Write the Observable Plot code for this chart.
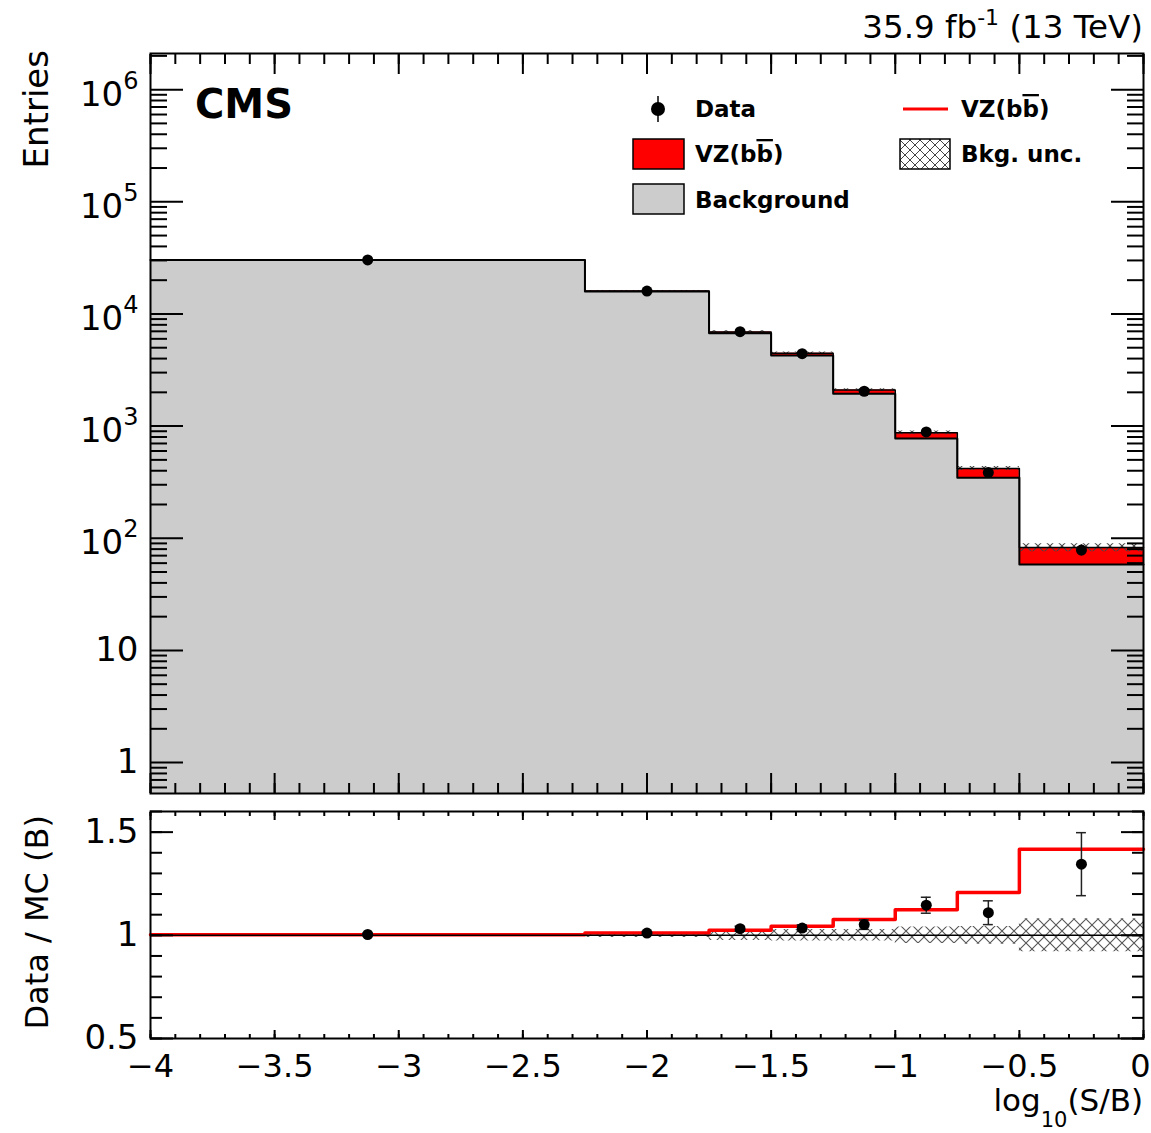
<!DOCTYPE html>
<html><head><meta charset="utf-8">
<script src="https://cdn.jsdelivr.net/npm/d3@7"></script>
<script src="https://cdn.jsdelivr.net/npm/@observablehq/plot@0.6"></script>
<style>
html,body{margin:0;padding:0;background:#fff;}
#wrap{position:relative;width:1151px;height:1133px;overflow:hidden;font-family:"DejaVu Sans",sans-serif;background:#fff;}
#top,#ratio{position:absolute;left:0;}
#top{top:0px;} #ratio{top:805px;}
#overlay{position:absolute;left:0;top:0;pointer-events:none;}
svg{overflow:visible;}
</style></head><body>
<div id="wrap"><div id="top"></div><div id="ratio"></div>
<svg id="overlay" width="1151" height="1133" font-family="DejaVu Sans"></svg></div>
<script>
// ---- data ----
const binEdges = [-4, -2.25, -1.75, -1.5, -1.25, -1, -0.75, -0.5, 0];
const background = [30210, 15830, 6740, 4270, 1945, 775, 347, 58.3];
const signal = [90, 175, 165, 190, 150, 96, 72, 24.3];
const dataCounts = [30330, 16000, 6955, 4420, 2046, 888, 385, 78.4];
const dataErrors = [174, 126, 83, 66, 45, 30, 20, 8.9];
const bkgRelUnc = [0.006, 0.01, 0.025, 0.028, 0.028, 0.04, 0.043, 0.08];
const yMajorTicks = [1, 10, 100, 1000, 10000, 100000, 1000000];
const yTickLabels = ["1", "10", "10^2", "10^3", "10^4", "10^5", "10^6"];
const xMajorTicks = [-4, -3.5, -3, -2.5, -2, -1.5, -1, -0.5, 0];
const xTickLabels = ["−4", "−3.5", "−3", "−2.5", "−2", "−1.5", "−1", "−0.5", "0"];
const ratioMajorTicks = [0.5, 1, 1.5];
const ratioTickLabels = ["0.5", "1", "1.5"];

const bins = background.map((b, i) => ({
  x1: binEdges[i], x2: binEdges[i + 1], xc: (binEdges[i] + binEdges[i + 1]) / 2,
  bkg: b, total: b + signal[i], data: dataCounts[i], err: dataErrors[i], unc: bkgRelUnc[i],
  sbRatio: (b + signal[i]) / b, dRatio: dataCounts[i] / b, dRatioErr: dataErrors[i] / b
}));
const step = key => bins.flatMap(d => [{x: d.x1, y: d[key]}, {x: d.x2, y: d[key]}]);
const band = (lo, hi) => bins.flatMap(d => [{x: d.x1, lo: lo(d), hi: hi(d)}, {x: d.x2, lo: lo(d), hi: hi(d)}]);

const xMinor = d3.range(0, 41).map(i => +(-4 + i * 0.1).toFixed(2));
const yMinor = [];
for (let k = -1; k <= 6; k++) for (let m = 2; m <= 9; m++) {
  const v = m * Math.pow(10, k);
  if (v > 0.53 && v < 2.1e6) yMinor.push(v);
}
const rMinor = d3.range(0, 12).map(i => +(0.5 + i * 0.1).toFixed(2));
const Y0 = 0.53, Y1 = 2.1e6;

const blank = () => "";
const ax = (fn, o) => fn({label: null, tickFormat: blank, strokeWidth: 2, ...o});

const topChart = Plot.plot({
  width: 1151, height: 805,
  marginLeft: 150, marginRight: 8, marginTop: 53, marginBottom: 12,
  style: {fontFamily: "DejaVu Sans", color: "black", background: "transparent"},
  x: {domain: [-4, 0], label: null},
  y: {type: "log", domain: [Y0, Y1], label: null},
  marks: [
    Plot.areaY(step("bkg"), {x: "x", y1: Y0, y2: "y", fill: "#cccccc"}),
    Plot.area(band(d => d.bkg, d => d.total), {x1: "x", y1: "lo", y2: "hi", fill: "#ff0000"}),
    Plot.area(band(d => d.total * (1 - d.unc), d => d.total * (1 + d.unc)), {x1: "x", y1: "lo", y2: "hi", fill: "url(#hatchTop)"}),
    Plot.line(step("bkg"), {x: "x", y: "y", stroke: "black", strokeWidth: 2}),
    Plot.line(step("total"), {x: "x", y: "y", stroke: "black", strokeWidth: 1.5}),
    Plot.ruleX(bins, {x: "xc", y1: d => d.data - d.err, y2: d => d.data + d.err, stroke: "black", strokeWidth: 1.5}),
    Plot.dot(bins, {x: "xc", y: "data", r: 5.5, fill: "black", stroke: null}),
    ax(Plot.axisX, {anchor: "bottom", ticks: xMinor, tickSize: -10}),
    ax(Plot.axisX, {anchor: "bottom", ticks: xMajorTicks, tickSize: -20}),
    ax(Plot.axisX, {anchor: "top", ticks: xMinor, tickSize: -10}),
    ax(Plot.axisX, {anchor: "top", ticks: xMajorTicks, tickSize: -20}),
    ax(Plot.axisY, {anchor: "left", ticks: yMinor, tickSize: -17}),
    ax(Plot.axisY, {anchor: "left", ticks: yMajorTicks, tickSize: -33}),
    ax(Plot.axisY, {anchor: "right", ticks: yMinor, tickSize: -17}),
    ax(Plot.axisY, {anchor: "right", ticks: yMajorTicks, tickSize: -33}),
    Plot.axisY({anchor: "left", ticks: yMajorTicks, tickSize: 0, tickPadding: 12, label: null,
      tickFormat: d => yTickLabels[yMajorTicks.indexOf(d)], fontSize: 34}),
    Plot.frame({stroke: "black", strokeWidth: 2})
  ]
});

const ratioChart = Plot.plot({
  width: 1151, height: 328,
  marginLeft: 150, marginRight: 8, marginTop: 6, marginBottom: 95,
  style: {fontFamily: "DejaVu Sans", color: "black", background: "transparent"},
  x: {domain: [-4, 0], label: null},
  y: {domain: [0.5, 1.6], label: null},
  marks: [
    Plot.area(band(d => 1 - d.unc, d => 1 + d.unc), {x1: "x", y1: "lo", y2: "hi", fill: "url(#hatchRatio)"}),
    Plot.line(step("sbRatio"), {x: "x", y: "y", stroke: "#ff0000", strokeWidth: 3.5}),
    Plot.ruleY([1], {stroke: "black", strokeWidth: 1.5}),
    Plot.ruleX(bins, {x: "xc", y1: d => d.dRatio - d.dRatioErr, y2: d => d.dRatio + d.dRatioErr, stroke: "#222", strokeWidth: 1.5}),
    Plot.ruleY(bins, {y: d => d.dRatio - d.dRatioErr, x1: d => d.xc - 0.02, x2: d => d.xc + 0.02, stroke: "#222", strokeWidth: 1.5}),
    Plot.ruleY(bins, {y: d => d.dRatio + d.dRatioErr, x1: d => d.xc - 0.02, x2: d => d.xc + 0.02, stroke: "#222", strokeWidth: 1.5}),
    Plot.dot(bins, {x: "xc", y: "dRatio", r: 5.5, fill: "black", stroke: null}),
    ax(Plot.axisX, {anchor: "bottom", ticks: xMinor, tickSize: -4}),
    ax(Plot.axisX, {anchor: "bottom", ticks: xMajorTicks, tickSize: -8}),
    ax(Plot.axisX, {anchor: "top", ticks: xMinor, tickSize: -4}),
    ax(Plot.axisX, {anchor: "top", ticks: xMajorTicks, tickSize: -8}),
    ax(Plot.axisY, {anchor: "left", ticks: rMinor, tickSize: -12}),
    ax(Plot.axisY, {anchor: "left", ticks: ratioMajorTicks, tickSize: -23}),
    ax(Plot.axisY, {anchor: "right", ticks: rMinor, tickSize: -12}),
    ax(Plot.axisY, {anchor: "right", ticks: ratioMajorTicks, tickSize: -23}),
    Plot.axisY({anchor: "left", ticks: ratioMajorTicks, tickSize: 0, tickPadding: 12, label: null,
      tickFormat: d => ratioTickLabels[ratioMajorTicks.indexOf(d)], fontSize: 34}),
    Plot.axisX({anchor: "bottom", ticks: xMajorTicks, tickSize: 0, tickPadding: 16, label: null,
      tickFormat: d => xTickLabels[xMajorTicks.indexOf(d)], fontSize: 32}),
    Plot.frame({stroke: "black", strokeWidth: 2})
  ]
});

function addHatch(svg, id, size, color) {
  const defs = d3.select(svg).insert("defs", ":first-child");
  const p = defs.append("pattern").attr("id", id).attr("patternUnits", "userSpaceOnUse")
    .attr("width", size).attr("height", size);
  p.append("path").attr("d", `M0,0L${size},${size}M${size},0L0,${size}`)
    .attr("stroke", color).attr("stroke-width", 1.1).attr("fill", "none");
}
addHatch(topChart, "hatchTop", 12, "#444");
addHatch(ratioChart, "hatchRatio", 12, "#555");

// superscripts on log labels
d3.select(topChart).selectAll("text").each(function () {
  const m = this.textContent.match(/^(\d+)\^(\d+)$/);
  if (m) {
    this.textContent = "";
    const s = d3.select(this);
    s.append("tspan").attr("dy", 5).text(m[1]);
    s.append("tspan").attr("dy", -17).attr("font-size", 24).text(m[2]);
  }
});
// keep the last x tick label inside the page
d3.select(ratioChart).selectAll("text").each(function () {
  if (this.textContent === "0") d3.select(this).attr("dx", -3);
});

document.getElementById("top").appendChild(topChart);
document.getElementById("ratio").appendChild(ratioChart);

// ---- overlay: titles, labels, legend ----
const ov = d3.select("#overlay");
const odefs = ov.append("defs");
const lp = odefs.append("pattern").attr("id", "hatchLeg").attr("patternUnits", "userSpaceOnUse")
  .attr("width", 10).attr("height", 10);
lp.append("path").attr("d", "M0,0L10,10M10,0L0,10").attr("stroke", "#444").attr("stroke-width", 1).attr("fill", "none");

ov.append("text").attr("transform", "translate(48,50) rotate(-90)").attr("text-anchor", "end")
  .attr("font-size", 34).text("Entries");
ov.append("text").attr("transform", "translate(48,815) rotate(-90)").attr("text-anchor", "end")
  .attr("font-size", 32).text("Data / MC (B)");

const xl = ov.append("text").attr("x", 1143).attr("y", 1111).attr("text-anchor", "end").attr("font-size", 31);
xl.append("tspan").text("log");
xl.append("tspan").attr("dy", 16).attr("font-size", 21).text("10");
xl.append("tspan").attr("dy", -16).text("(S/B)");

ov.append("text").attr("x", 195).attr("y", 118).attr("font-size", 40).attr("font-weight", "bold").text("CMS");

const lumi = ov.append("text").attr("x", 1143).attr("y", 38).attr("text-anchor", "end").attr("font-size", 32.5);
lumi.append("tspan").text("35.9 fb");
lumi.append("tspan").attr("dy", -13).attr("font-size", 22).text("-1");
lumi.append("tspan").attr("dy", 13).text("\u00a0(13 TeV)");

const leg = ov.append("g").attr("font-size", 23).attr("font-weight", "bold");
function vzText(x, y) {
  const t = leg.append("text").attr("x", x).attr("y", y);
  t.append("tspan").text("VZ(b");
  t.append("tspan").style("text-decoration", "overline").text("b");
  t.append("tspan").text(")");
}
// row 1
leg.append("line").attr("x1", 658).attr("x2", 658).attr("y1", 96).attr("y2", 122).attr("stroke", "black").attr("stroke-width", 1.5);
leg.append("circle").attr("cx", 658).attr("cy", 109).attr("r", 7).attr("fill", "black");
leg.append("text").attr("x", 695).attr("y", 117).text("Data");
leg.append("line").attr("x1", 903).attr("x2", 948).attr("y1", 109).attr("y2", 109).attr("stroke", "#ff0000").attr("stroke-width", 3);
vzText(961, 117);
// row 2
leg.append("rect").attr("x", 633).attr("y", 139).attr("width", 51).attr("height", 30).attr("fill", "#ff0000").attr("stroke", "black").attr("stroke-width", 1.5);
vzText(695, 162);
leg.append("rect").attr("x", 900).attr("y", 139).attr("width", 50).attr("height", 30).attr("fill", "url(#hatchLeg)").attr("stroke", "black").attr("stroke-width", 1.5);
leg.append("text").attr("x", 961).attr("y", 162).text("Bkg. unc.");
// row 3
leg.append("rect").attr("x", 633).attr("y", 184).attr("width", 51).attr("height", 30).attr("fill", "#cccccc").attr("stroke", "black").attr("stroke-width", 1.5);
leg.append("text").attr("x", 695).attr("y", 208).text("Background");
</script>
</body></html>
